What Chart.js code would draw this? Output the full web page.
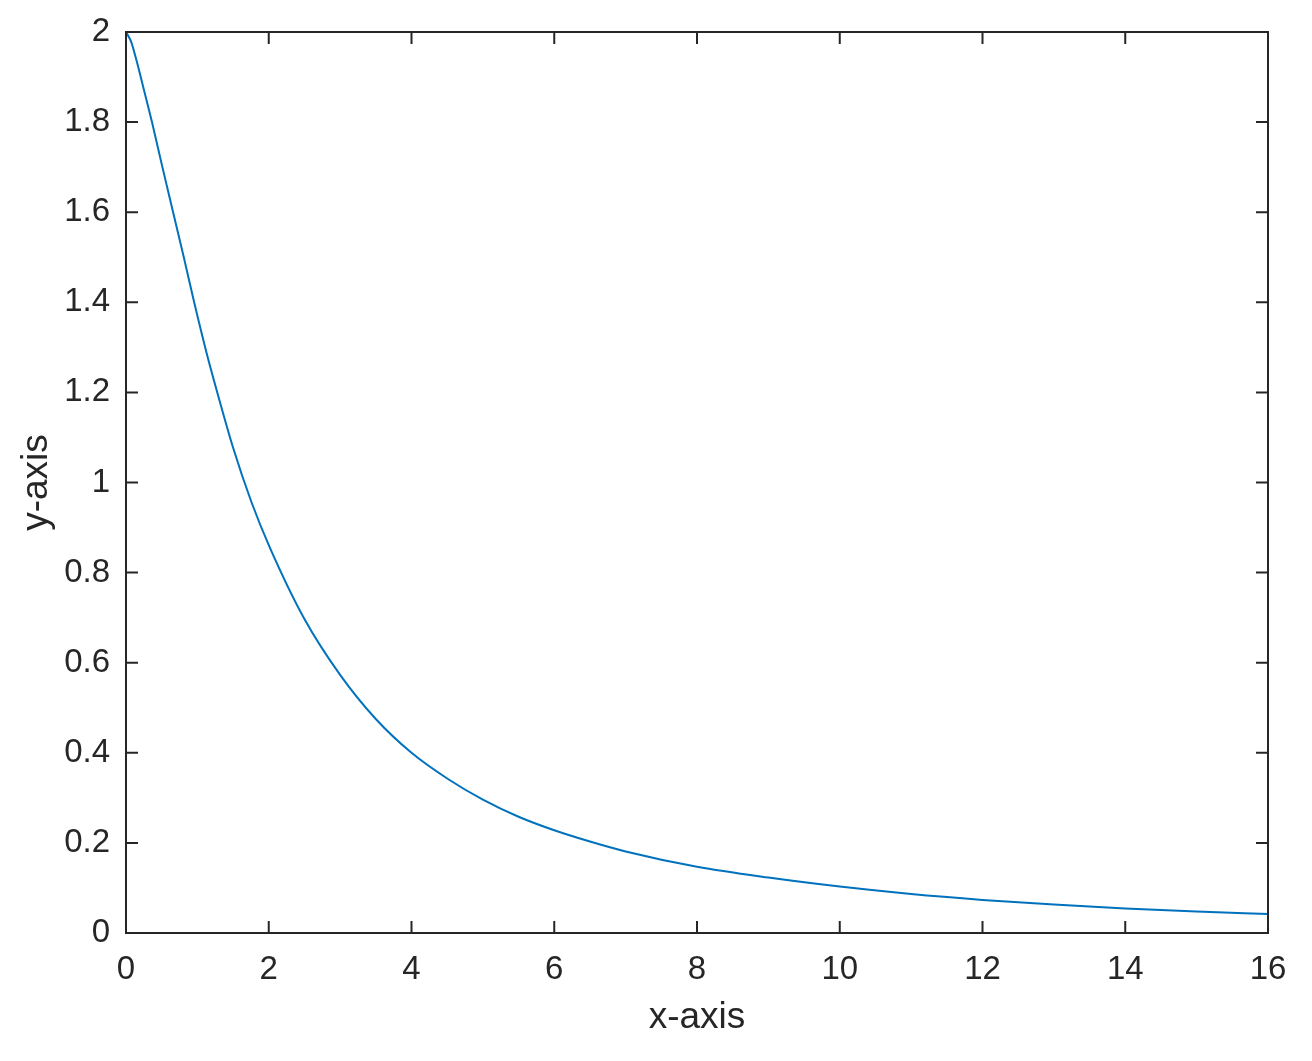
<!DOCTYPE html>
<html>
<head>
<meta charset="utf-8">
<script src="https://cdn.jsdelivr.net/npm/chart.js@4/dist/chart.umd.min.js"></script>
<style>
  html, body { margin: 0; padding: 0; background: #fff; }
  #wrap { width: 1312px; height: 1061px; }
</style>
</head>
<body>
<div id="wrap"><canvas id="curveChart"></canvas></div>
<script>
// values
const xValues = [0, 0.07, 0.14, 0.257, 0.364, 0.51, 0.66, 0.81, 0.955, 1.13, 1.27, 1.503, 1.761, 2.017, 2.5, 3, 3.5, 4, 4.5, 5, 5.5, 6, 6.5, 7, 8, 9, 10, 11, 12, 13, 14, 15, 16];
const yValues = [2, 1.979, 1.941, 1.868, 1.8, 1.7, 1.6, 1.5, 1.4, 1.287, 1.205, 1.076, 0.955, 0.855, 0.697, 0.573, 0.475, 0.4, 0.343, 0.296, 0.258, 0.228, 0.203, 0.181, 0.147, 0.123, 0.103, 0.0865, 0.0735, 0.063, 0.0545, 0.0475, 0.042];
const xTicks = [0, 2, 4, 6, 8, 10, 12, 14, 16];
const yTicks = [0, 0.2, 0.4, 0.6, 0.8, 1, 1.2, 1.4, 1.6, 1.8, 2];

const axisColor = "#262626";
const fontFamily = "'Liberation Sans', Arial, Helvetica, sans-serif";

// box around the plot with inward ticks on all four sides
const boxPlugin = {
  id: "boxTicks",
  afterDraw(chart) {
    const { ctx, chartArea: a, scales } = chart;
    const len = 12;
    ctx.save();
    ctx.strokeStyle = axisColor;
    ctx.lineWidth = 2;
    ctx.beginPath();
    xTicks.forEach((v) => {
      const px = scales.x.getPixelForValue(v);
      ctx.moveTo(px, a.bottom);
      ctx.lineTo(px, a.bottom - len);
      ctx.moveTo(px, a.top);
      ctx.lineTo(px, a.top + len);
    });
    yTicks.forEach((v) => {
      const py = scales.y.getPixelForValue(v);
      ctx.moveTo(a.left, py);
      ctx.lineTo(a.left + len, py);
      ctx.moveTo(a.right, py);
      ctx.lineTo(a.right - len, py);
    });
    ctx.stroke();
    ctx.strokeRect(a.left, a.top, a.right - a.left, a.bottom - a.top);
    ctx.restore();
  },
};

const points = xValues.map((x, i) => ({ x: x, y: yValues[i] }));

new Chart(document.getElementById("curveChart"), {
  type: "line",
  data: {
    datasets: [
      {
        data: points,
        borderColor: "#0072BD",
        borderWidth: 2,
        pointRadius: 0,
        fill: false,
        cubicInterpolationMode: "monotone",
      },
    ],
  },
  options: {
    responsive: true,
    maintainAspectRatio: false,
    animation: false,
    layout: { padding: { left: 0, right: 44, top: 32, bottom: 0 } },
    plugins: {
      legend: { display: false },
      tooltip: { enabled: false },
    },
    scales: {
      x: {
        type: "linear",
        min: 0,
        max: 16,
        afterBuildTicks: (scale) => {
          scale.ticks = xTicks.map((v) => ({ value: v }));
        },
        afterFit: (scale) => {
          scale.height = 128;
          scale.paddingLeft = 0;
          scale.paddingRight = 0;
        },
        grid: { display: false, drawTicks: false },
        border: { display: false },
        ticks: {
          color: axisColor,
          font: { family: fontFamily, size: 33 },
          padding: 17,
          maxRotation: 0,
        },
        title: {
          display: true,
          text: "x-axis",
          color: axisColor,
          font: { family: fontFamily, size: 37 },
          padding: { top: 0, bottom: 21 },
        },
      },
      y: {
        type: "linear",
        min: 0,
        max: 2,
        afterBuildTicks: (scale) => {
          scale.ticks = yTicks.map((v) => ({ value: v }));
        },
        afterFit: (scale) => {
          scale.width = 126;
          scale.paddingTop = 0;
          scale.paddingBottom = 0;
        },
        grid: { display: false, drawTicks: false },
        border: { display: false },
        ticks: {
          color: axisColor,
          font: { family: fontFamily, size: 33 },
          padding: 16,
          callback: (v) => String(v),
        },
        title: {
          display: true,
          text: "y-axis",
          color: axisColor,
          font: { family: fontFamily, size: 37 },
          padding: { top: 15, bottom: 0 },
        },
      },
    },
  },
  plugins: [boxPlugin],
});
</script>
</body>
</html>
